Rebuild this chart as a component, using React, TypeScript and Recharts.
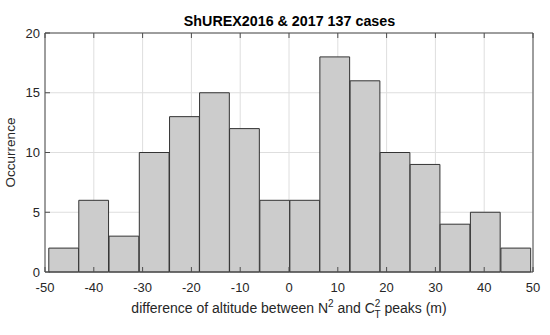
import {
  Bar,
  CartesianGrid,
  ComposedChart,
  Label,
  XAxis,
  YAxis,
} from "recharts";

// bin edges (m); last edge closes the final bin
const binStarts = [-49.2, -43.1, -36.9, -30.7, -24.5, -18.3, -12.2, -6.0, 0.2, 6.3, 12.5, 18.7, 24.8, 31.0, 37.1, 43.4];
const binEnds = [-43.1, -36.9, -30.7, -24.5, -18.3, -12.2, -6.0, 0.2, 6.3, 12.5, 18.7, 24.8, 31.0, 37.1, 43.4, 49.6];
const counts = [2, 6, 3, 10, 13, 15, 12, 6, 6, 18, 16, 10, 9, 4, 5, 2];
const xTicks = [-50, -40, -30, -20, -10, 0, 10, 20, 30, 40, 50];
const yTicks = [0, 5, 10, 15, 20];

const chartTitle = "ShUREX2016 & 2017 137 cases";

const FONT = "'Liberation Sans', Arial, Helvetica, sans-serif";
const INK = "#262626";
const BOX = "#4d4d4d";

const data = binStarts.map((lo, i) => ({
  mid: (lo + binEnds[i]) / 2,
  count: counts[i],
}));

const W = 550;
const H = 335;
const MARGIN = { top: 32, right: 16, bottom: 0, left: 0 };
const plotWidth = W - MARGIN.left - MARGIN.right - 45 - 1;
const binPx = (plotWidth * (binEnds[0] - binStarts[0])) / 100;

const XLabel = ({ viewBox }: any) => {
  const cx = viewBox.x + viewBox.width / 2;
  const y = viewBox.y + 41;
  return (
    <text x={cx} y={y} textAnchor="middle" fontFamily={FONT} fontSize={14} fill={INK}>
      difference of altitude between N
      <tspan fontSize={10} dy={-6}>2</tspan>
      <tspan dy={6}> and C</tspan>
      <tspan fontSize={10} dy={-6}>2</tspan>
      <tspan fontSize={10} dx={-6} dy={11}>T</tspan>
      <tspan dy={-5}> peaks (m)</tspan>
    </text>
  );
};

const YLabel = ({ viewBox }: any) => {
  const x = viewBox.x + 15;
  const cy = viewBox.y + viewBox.height / 2;
  return (
    <text
      transform={`translate(${x},${cy}) rotate(-90)`}
      textAnchor="middle"
      fontFamily={FONT}
      fontSize={13.5}
      fill={INK}
    >
      Occurrence
    </text>
  );
};

export default function App() {
  const tickStyle = { fill: INK, fontSize: 13, fontFamily: FONT };
  return (
    <div style={{ position: "absolute", left: 0, top: 0, width: W, height: H, background: "#fff" }}>
      <div
        style={{
          position: "absolute",
          left: 45,
          width: 489,
          top: 12,
          textAlign: "center",
          fontFamily: FONT,
          fontWeight: "bold",
          fontSize: 14.3,
          color: "#000",
          lineHeight: "18px",
        }}
      >
        {chartTitle}
      </div>
      <ComposedChart width={W} height={H} data={data} margin={MARGIN}>
        <CartesianGrid xAxisId="bottom" yAxisId="left" stroke="#dedede" strokeWidth={1} />
        <XAxis
          xAxisId="bottom"
          dataKey="mid"
          type="number"
          domain={[-50, 50]}
          ticks={xTicks}
          allowDataOverflow
          height={63}
          tickSize={-5}
          tickMargin={16}
          tick={tickStyle}
          stroke={BOX}
          tickLine={{ stroke: BOX }}
          axisLine={{ stroke: BOX }}
        >
          <Label content={<XLabel />} />
        </XAxis>
        <XAxis
          xAxisId="top"
          orientation="top"
          dataKey="mid"
          type="number"
          domain={[-50, 50]}
          ticks={xTicks}
          allowDataOverflow
          height={1}
          tickSize={-5}
          tickFormatter={() => ""}
          stroke={BOX}
        />
        <YAxis
          yAxisId="left"
          type="number"
          domain={[0, 20]}
          ticks={yTicks}
          width={45}
          tickSize={-5}
          tickMargin={10}
          tick={tickStyle}
          stroke={BOX}
        >
          <Label content={<YLabel />} />
        </YAxis>
        <YAxis
          yAxisId="right"
          orientation="right"
          type="number"
          domain={[0, 20]}
          ticks={yTicks}
          width={1}
          tickSize={-5}
          tickFormatter={() => ""}
          stroke={BOX}
        />
        <Bar
          xAxisId="bottom"
          yAxisId="left"
          dataKey="count"
          barSize={binPx}
          fill="#cccccc"
          stroke="#333333"
          strokeWidth={1}
          isAnimationActive={false}
        />
      </ComposedChart>
    </div>
  );
}
